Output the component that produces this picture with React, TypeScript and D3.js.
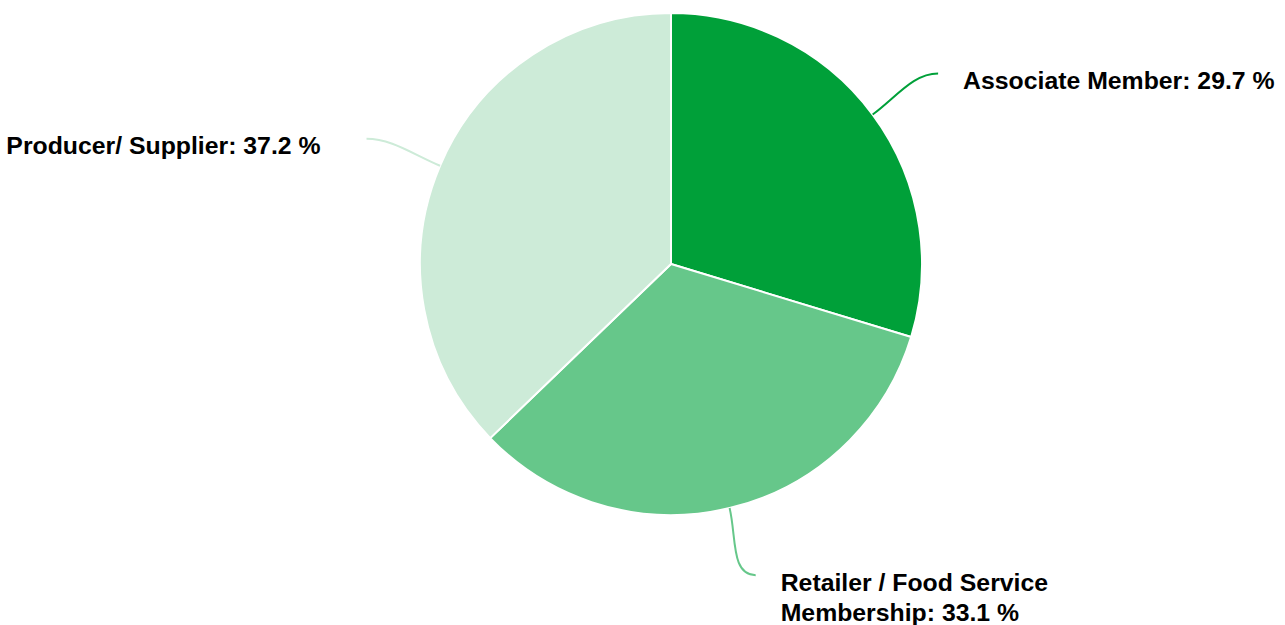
import * as React from 'react';
import {pie as d3Pie, arc as d3Arc, path as d3Path} from 'd3';

const categories = ['Associate Member', 'Retailer / Food Service Membership', 'Producer/ Supplier'];
const values = [29.7, 33.1, 37.2];
const colors = ['#00a039', '#66c78a', '#cdebd8'];
// label text split into lines
const labelLines = [
  ['Associate Member: 29.7 %'],
  ['Retailer / Food Service', 'Membership: 33.1 %'],
  ['Producer/ Supplier: 37.2 %'],
];

const width = 1285;
const height = 625;

export default function App() {
  const cx = 663;
  const cy = 256;
  const radius = 251;
  const labelRadius = 320;
  const fontSize = 24.8;
  const lineHeight = 30;

  const arcs = d3Pie<number>().sort(null).value((d) => d)(values);
  const arcGen = d3Arc<any>().innerRadius(0).outerRadius(radius);

  const polar = (a: number, r: number): [number, number] => [Math.sin(a) * r, -Math.cos(a) * r];

  return <svg width={width} height={height} style={{position: 'absolute', left: 0, top: 0}}
    fontFamily='"Liberation Sans", Arial, sans-serif'>
    <g transform={`translate(${cx + 8}, ${cy + 8})`}>
      {arcs.map((a, i) =>
        <path key={categories[i]} d={arcGen(a) as string} fill={colors[i]} stroke="#fff" strokeWidth={2}
          strokeLinejoin="round" />)}
      {arcs.map((a, i) => {
        const mid = (a.startAngle + a.endAngle) / 2;
        const [sx, sy] = polar(mid, radius);
        const [px, ey] = polar(mid, labelRadius);
        const right = px > 0;
        const dir = right ? 1 : -1;
        const ex = px + dir * 10;
        // radial start, horizontal finish
        const [c1x, c1y] = polar(mid, radius + 30);
        const p = d3Path();
        p.moveTo(sx, sy);
        p.bezierCurveTo(c1x, c1y, ex - dir * 25, ey, ex, ey);
        const tx = right ? ex + 25 : ex - 46;
        return <g key={'lbl' + i}>
          <path d={p.toString()} fill="none" stroke={colors[i]} strokeWidth={2} />
          <text x={tx} y={ey + 15.5} fontSize={fontSize} fontWeight="bold" fill="#000"
            textAnchor={right ? 'start' : 'end'}>
            {labelLines[i].map((l, j) => <tspan key={j} x={tx} dy={j === 0 ? 0 : lineHeight}>{l}</tspan>)}
          </text>
        </g>;
      })}
    </g>
  </svg>;
}
